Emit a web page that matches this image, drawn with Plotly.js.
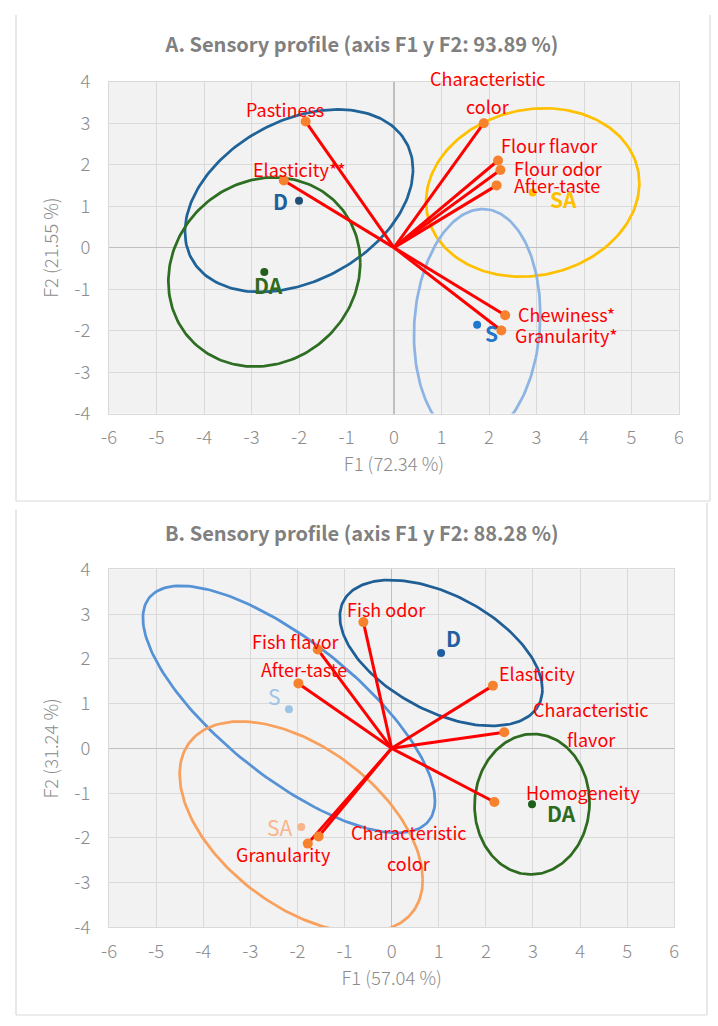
<!DOCTYPE html>
<html>
<head>
<meta charset="utf-8">
<script src="https://cdn.plot.ly/plotly-3.0.1.min.js"></script>
<style>html,body{margin:0;padding:0;background:#fff;}#chart{width:718px;height:1026px;}</style>
</head>
<body>
<div id="chart"></div>
<script>
// ---------------- DATA: Panel A ----------------
const titleA = 'A. Sensory profile (axis F1 y F2: 93.89 %)';
const xTitleA = 'F1 (72.34 %)';
const yTitleA = 'F2 (21.55 %)';
const varsA = ['Characteristic<br>color', 'Flour flavor', 'Flour odor', 'After-taste', 'Chewiness*', 'Granularity*', 'Pastiness', 'Elasticity**'];
const varsAx = [1.89, 2.19, 2.24, 2.16, 2.34, 2.26, -1.86, -2.32];
const varsAy = [3.00, 2.10, 1.87, 1.50, -1.63, -2.00, 3.04, 1.62];
const groupsA = ['D', 'DA', 'SA', 'S'];
const groupsAx = [-2.00, -2.73, 2.92, 1.75];
const groupsAy = [1.13, -0.59, 1.33, -1.86];
// confidence ellipses (centred on each group): radii along F1, F2 and correlation
const ellARx = [2.40, 2.02, 2.245, 1.33];
const ellARy = [2.20, 2.28, 2.03, 2.79];
const ellARho = [0.34, 0.10, 0.11, 0.09];

// ---------------- DATA: Panel B ----------------
const titleB = 'B. Sensory profile (axis F1 y F2: 88.28 %)';
const xTitleB = 'F1 (57.04 %)';
const yTitleB = 'F2 (31.24 %)';
const varsB = ['Fish odor', 'Fish flavor', 'After-taste', 'Elasticity', 'Characteristic<br>flavor', 'Homogeneity', 'Characteristic<br>color', 'Granularity'];
const varsBx = [-0.60, -1.57, -1.98, 2.15, 2.39, 2.18, -1.55, -1.78];
const varsBy = [2.82, 2.21, 1.45, 1.40, 0.36, -1.20, -1.97, -2.13];
const groupsB = ['D', 'S', 'SA', 'DA'];
const groupsBx = [1.05, -2.18, -1.92, 2.98];
const groupsBy = [2.13, 0.87, -1.76, -1.25];
const ellBRx = [2.15, 3.10, 2.58, 1.22];
const ellBRy = [1.63, 2.76, 2.36, 1.57];
const ellBRho = [-0.50, -0.74, -0.50, 0.02];

const tickVals = [-6, -5, -4, -3, -2, -1, 0, 1, 2, 3, 4, 5, 6];
const tickValsY = [-4, -3, -2, -1, 0, 1, 2, 3, 4];

// ---------------- STYLE ----------------
const FONT = '"Noto Sans CJK SC", "Noto Sans", sans-serif';
const RED = '#FF0000';
const ORANGE = '#F7812D';
const styleA = {
  ell: ['#1F6398', '#2E6E22', '#FFC000', '#8DB4E2'],
  pt: ['#1F4E79', '#245E1C', '#FFC000', '#1F77D0'],
  lab: ['#1F5F9F', '#2E6B1F', '#FFC000', '#2176C7'],
  bold: [true, true, true, true]
};
const styleB = {
  ell: ['#1F5F96', '#5592D6', '#F8A05C', '#2E6B1F'],
  pt: ['#1F5FA0', '#9DC3E6', '#F8B58A', '#1E5F1E'],
  lab: ['#1F5FA0', '#9DC3E6', '#F8B58A', '#2E6B1F'],
  bold: [true, false, false, true]
};
// label placement: [xanchor, dx(px), dy(px, down positive, for last line), line gap]
const placeVarsA = [['center', 4, -17, 28], ['left', 1, -15.5], ['left', 12, -2], ['left', 15, 0], ['left', 11, -1], ['left', 12, 4], ['center', -21, -12.5], ['center', 16, -11.5]];
const placeGroupsA = [['right', -9, 0], ['center', 4, 13], ['left', 15, 6.5], ['left', 6, 8]];
const placeVarsB = [['center', 23, -13], ['center', -22, -8.5], ['center', 6, -14], ['left', 4, -13], ['center', 87, 7, 30], ['center', 89, -10], ['center', 90, 27, 31], ['center', -24, 10]];
const placeGroupsB = [['left', 3, -15], ['right', -6, -13], ['right', -6, 0], ['left', 13, 9]];

function ellipse(cx, cy, rx, ry, rho) {
  const phi = Math.acos(rho);
  const xs = [], ys = [];
  for (let i = 0; i <= 200; i++) {
    const t = 2 * Math.PI * i / 200;
    xs.push(cx + rx * Math.cos(t));
    ys.push(cy + ry * Math.cos(t - phi));
  }
  return {xs, ys};
}

const traces = [];
const annotations = [];

function buildPanel(xa, ya, vars, vx, vy, groups, gx, gy, erx, ery, erho, st, placeV, placeG) {
  for (let i = 0; i < groups.length; i++) {
    const e = ellipse(gx[i], gy[i], erx[i], ery[i], erho[i]);
    traces.push({type: 'scatter', mode: 'lines', x: e.xs, y: e.ys, xaxis: xa, yaxis: ya,
      line: {color: st.ell[i], width: 2.75}, hoverinfo: 'skip', showlegend: false});
  }
  const lx = [], ly = [];
  for (let i = 0; i < vars.length; i++) { lx.push(0, vx[i], null); ly.push(0, vy[i], null); }
  traces.push({type: 'scatter', mode: 'lines', x: lx, y: ly, xaxis: xa, yaxis: ya,
    line: {color: RED, width: 3}, hoverinfo: 'skip', showlegend: false});
  traces.push({type: 'scatter', mode: 'markers', x: vx, y: vy, xaxis: xa, yaxis: ya,
    marker: {color: ORANGE, size: 10}, showlegend: false});
  traces.push({type: 'scatter', mode: 'markers', x: gx, y: gy, xaxis: xa, yaxis: ya,
    marker: {color: st.pt, size: 8}, showlegend: false});
  for (let i = 0; i < vars.length; i++) {
    const p = placeV[i];
    const lines = vars[i].split('<br>');
    const gap = p[3] || 28;
    lines.forEach((ln, k) => {
      const dy = p[2] - (lines.length - 1 - k) * gap;
      annotations.push({x: vx[i], y: vy[i], xref: xa, yref: ya, text: ln, showarrow: false,
        xanchor: p[0], yanchor: 'middle', xshift: p[1], yshift: -dy,
        font: {family: FONT, size: 18, color: RED}});
    });
  }
  for (let i = 0; i < groups.length; i++) {
    const p = placeG[i];
    annotations.push({x: gx[i], y: gy[i], xref: xa, yref: ya, text: groups[i], showarrow: false,
      xanchor: p[0], yanchor: 'middle', xshift: p[1], yshift: -p[2],
      font: {family: FONT, size: 21, color: st.lab[i], weight: st.bold[i] ? 'bold' : 'normal'}});
  }
}

buildPanel('x', 'y', varsA, varsAx, varsAy, groupsA, groupsAx, groupsAy, ellARx, ellARy, ellARho, styleA, placeVarsA, placeGroupsA);
buildPanel('x2', 'y2', varsB, varsBx, varsBy, groupsB, groupsBx, groupsBy, ellBRx, ellBRy, ellBRho, styleB, placeVarsB, placeGroupsB);

const W = 718, H = 1026;
const px = v => v / W, py = v => 1 - v / H;
const tickFont = {family: FONT, size: 18.5, color: '#8C8C8C', weight: 300};
const axTitleFont = {family: FONT, size: 18.5, color: '#8C8C8C', weight: 300};
function xAxis(dom, title, anchor) {
  return {domain: dom, anchor: anchor, range: [-6, 6], tickvals: tickVals, ticktext: tickVals.map(String),
    showgrid: true, gridcolor: '#D9D9D9', gridwidth: 1, zeroline: true, zerolinecolor: '#BFBFBF', zerolinewidth: 1.5,
    showline: true, linecolor: '#D9D9D9', linewidth: 1, mirror: true, ticks: '', tickfont: tickFont,
    ticklabelstandoff: 7, title: {text: title, font: axTitleFont, standoff: 10}, fixedrange: true};
}
function yAxis(dom, title, anchor) {
  return {domain: dom, anchor: anchor, range: [-4, 4], tickvals: tickValsY, ticktext: tickValsY.map(String),
    showgrid: true, gridcolor: '#D9D9D9', gridwidth: 1, zeroline: true, zerolinecolor: '#BFBFBF', zerolinewidth: 1.5,
    showline: true, linecolor: '#D9D9D9', linewidth: 1, mirror: true, ticks: '', tickfont: tickFont,
    ticklabelstandoff: 14, title: {text: title, font: axTitleFont, standoff: 10}, fixedrange: true};
}

annotations.push({xref: 'paper', yref: 'paper', x: px(362), y: py(532), xanchor: 'center', yanchor: 'middle',
  text: titleB, showarrow: false, font: {family: FONT, size: 20, color: '#808080', weight: 'bold'}});

const border = {color: '#D9D9D9', width: 1.2};
const shapes = [
  {type: 'line', xref: 'paper', yref: 'paper', x0: px(16), x1: px(16), y0: py(15), y1: py(501), line: border},
  {type: 'line', xref: 'paper', yref: 'paper', x0: px(710), x1: px(710), y0: py(15), y1: py(501), line: border},
  {type: 'line', xref: 'paper', yref: 'paper', x0: px(16), x1: px(710), y0: py(501), y1: py(501), line: border},
  {type: 'line', xref: 'paper', yref: 'paper', x0: px(16), x1: px(16), y0: py(510), y1: py(1015), line: border},
  {type: 'line', xref: 'paper', yref: 'paper', x0: px(707), x1: px(707), y0: py(503), y1: py(1015), line: border},
  {type: 'line', xref: 'paper', yref: 'paper', x0: px(16), x1: px(707), y0: py(1015), y1: py(1015), line: border}
];

const layout = {
  width: W, height: H, margin: {l: 0, r: 0, t: 0, b: 0},
  paper_bgcolor: '#FFFFFF', plot_bgcolor: '#F2F2F2', showlegend: false,
  title: {text: titleA, x: px(362), xref: 'paper', xanchor: 'center', y: py(45), yref: 'paper', yanchor: 'middle',
    font: {family: FONT, size: 20, color: '#808080', weight: 'bold'}},
  xaxis: xAxis([px(109), px(679)], xTitleA, 'y'),
  yaxis: yAxis([py(413.5), py(81.7)], yTitleA, 'x'),
  xaxis2: xAxis([px(109), px(674.3)], xTitleB, 'y2'),
  yaxis2: yAxis([py(927.3), py(569.3)], yTitleB, 'x2'),
  annotations: annotations, shapes: shapes, hovermode: false
};

Plotly.newPlot('chart', traces, layout, {staticPlot: true, displayModeBar: false});
</script>
</body>
</html>
